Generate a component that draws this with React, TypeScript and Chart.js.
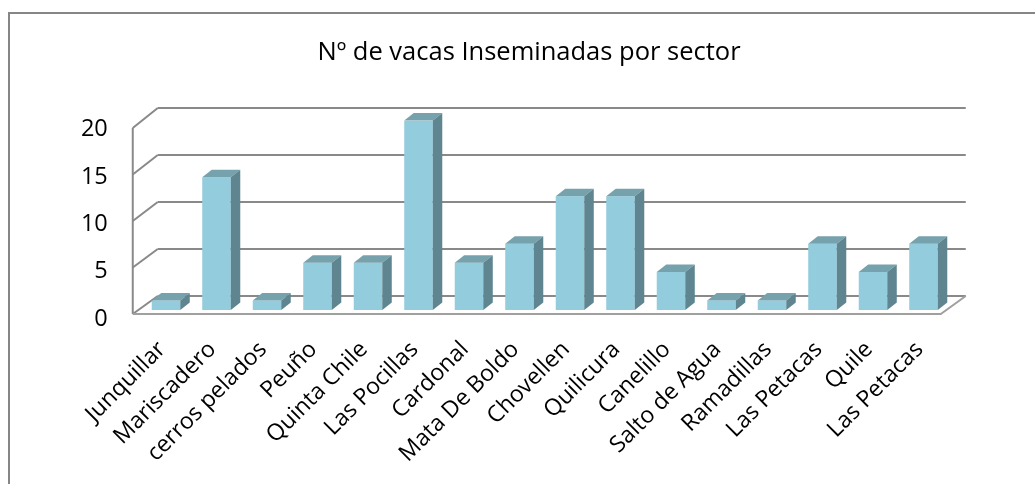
import React, { useEffect, useRef } from "react";
import { Chart, registerables } from "chart.js";

Chart.register(...registerables);

const titleText = "Nº de vacas Inseminadas por sector";
const categories = [
  "Junquillar",
  "Mariscadero",
  "cerros pelados",
  "Peuño",
  "Quinta Chile",
  "Las Pocillas",
  "Cardonal",
  "Mata De Boldo",
  "Chovellen",
  "Quilicura",
  "Canelillo",
  "Salto de Agua",
  "Ramadillas",
  "Las Petacas",
  "Quile",
  "Las Petacas",
];
const values = [1, 14, 1, 5, 5, 20, 5, 7, 12, 12, 4, 1, 1, 7, 4, 7];
const yTicks = [0, 5, 10, 15, 20];

const FONT = "'Open Sans', 'DejaVu Sans', sans-serif";
const GRID = "#898989";
const FRONT_DX = -8;
const BACK_DX = 17;
const BAR_DX = 9.5;
const BAR_DY = -7.5;

const threeD = {
  id: "threeD",
  beforeDraw(chart: any) {
    const ctx = chart.ctx;
    ctx.save();
    ctx.fillStyle = "#ffffff";
    ctx.fillRect(0, 0, chart.width, chart.height);
    ctx.strokeStyle = "#868686";
    ctx.lineWidth = 2;
    ctx.strokeRect(9, 13, chart.width + 20, chart.height + 20);
    ctx.fillStyle = "#000000";
    ctx.font = `normal 25.5px ${FONT}`;
    ctx.textAlign = "center";
    ctx.textBaseline = "alphabetic";
    ctx.fillText(titleText, 529, 60);
    ctx.restore();
  },
  beforeDatasetsDraw(chart: any) {
    const ctx = chart.ctx;
    const a = chart.chartArea;
    const y = chart.scales.y;
    const y0 = y.getPixelForValue(0);
    const frontY = (py: number) => y0 + 4 + (py - y0) * 0.982;
    const backY = (py: number) => y0 - 14 + (py - y0) * 0.992;
    ctx.save();
    ctx.strokeStyle = GRID;
    ctx.lineWidth = 2;
    ctx.lineCap = "butt";
    for (const v of yTicks) {
      const py = y.getPixelForValue(v);
      ctx.beginPath();
      ctx.moveTo(a.left + BACK_DX, backY(py));
      ctx.lineTo(a.right + BACK_DX, backY(py));
      ctx.stroke();
      ctx.beginPath();
      ctx.moveTo(a.left + FRONT_DX, frontY(py));
      ctx.lineTo(a.left + BACK_DX, backY(py));
      ctx.stroke();
    }
    const top = y.getPixelForValue(yTicks[yTicks.length - 1]);
    ctx.beginPath();
    ctx.moveTo(a.left + FRONT_DX, frontY(top));
    ctx.lineTo(a.left + FRONT_DX, frontY(y0));
    ctx.stroke();
    ctx.strokeStyle = "#a0a0a0";
    ctx.beginPath();
    ctx.moveTo(a.left + FRONT_DX, frontY(y0));
    ctx.lineTo(a.right + FRONT_DX, frontY(y0));
    ctx.lineTo(a.right + BACK_DX, backY(y0));
    ctx.stroke();
    ctx.restore();
  },
  afterDatasetsDraw(chart: any) {
    const ctx = chart.ctx;
    const meta = chart.getDatasetMeta(0);
    ctx.save();
    meta.data.forEach((bar: any) => {
      const { x, y, base, width } = bar.getProps(["x", "y", "base", "width"], true);
      const l = x - width / 2;
      const r = x + width / 2;
      ctx.fillStyle = "#76A2AD";
      ctx.beginPath();
      ctx.moveTo(l, y);
      ctx.lineTo(l + BAR_DX, y + BAR_DY);
      ctx.lineTo(r + BAR_DX, y + BAR_DY);
      ctx.lineTo(r, y);
      ctx.closePath();
      ctx.fill();
      ctx.fillStyle = "#5E8590";
      ctx.beginPath();
      ctx.moveTo(r, y);
      ctx.lineTo(r + BAR_DX, y + BAR_DY);
      ctx.lineTo(r + BAR_DX, base + BAR_DY);
      ctx.lineTo(r, base);
      ctx.closePath();
      ctx.fill();
    });
    ctx.restore();
  },
};

export default function App() {
  const ref = useRef<HTMLCanvasElement | null>(null);
  useEffect(() => {
    if (!ref.current) return;
    const chart = new Chart(ref.current, {
      type: "bar",
      data: {
        labels: categories,
        datasets: [
          {
            data: values,
            backgroundColor: "#93CDDD",
            borderWidth: 0,
            barPercentage: 1,
            categoryPercentage: 0.565,
          },
        ],
      },
      options: {
        responsive: false,
        animation: false,
        layout: { padding: { left: 0, right: 86.25, top: 120.5, bottom: 0 } },
        plugins: {
          legend: { display: false },
          tooltip: { enabled: false },
          title: { display: false },
        },
        scales: {
          x: {
            grid: { display: false, drawTicks: false },
            border: { display: false },
            afterFit: (s: any) => {
              s.height = 174;
            },
            ticks: {
              autoSkip: false,
              maxRotation: 45,
              minRotation: 45,
              color: "#000000",
              padding: 26,
              labelOffset: -4,
              font: { family: FONT, size: 23 },
            },
          },
          y: {
            min: 0,
            max: 20,
            grid: { display: false, drawTicks: false },
            border: { display: false },
            afterFit: (s: any) => {
              s.width = 140.75;
            },
            afterBuildTicks: (s: any) => {
              s.ticks = yTicks.map((v) => ({ value: v }));
            },
            ticks: {
              color: "#000000",
              padding: 33,
              labelOffset: 9,
              font: { family: FONT, size: 23.5 },
            },
          },
        },
      },
      plugins: [threeD],
    });
    return () => chart.destroy();
  }, []);
  return (
    <div style={{ position: "absolute", left: 0, top: 0, width: 1035, height: 484 }}>
      <canvas ref={ref} width={1035} height={484} style={{ display: "block" }} />
    </div>
  );
}
